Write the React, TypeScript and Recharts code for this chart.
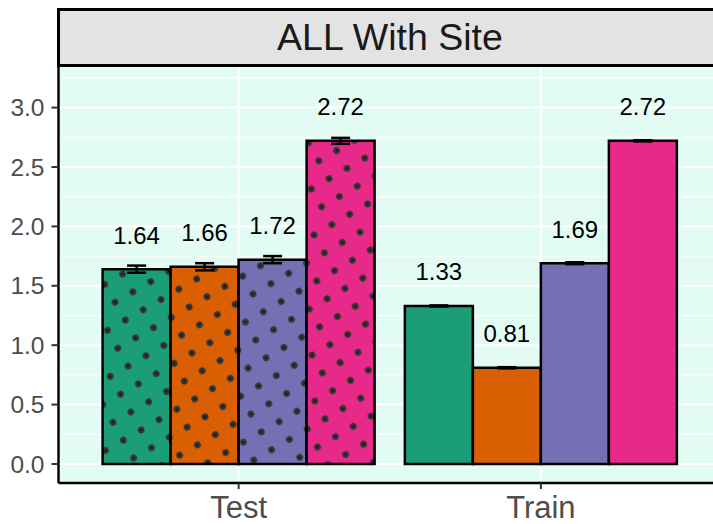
import {Bar, BarChart, CartesianGrid, Cell, ErrorBar, LabelList, XAxis, YAxis} from 'recharts';

// splits on the x axis
const splits = ['Test', 'Train'];
// one bar per model, same order in both splits
const seriesKeys = ['m1', 'm2', 'm3', 'm4'];
const testMeans = [1.64, 1.66, 1.72, 2.72];
const trainMeans = [1.33, 0.81, 1.69, 2.72];
const testErrors = [0.03, 0.03, 0.03, 0.025];
const trainErrors = [0.005, 0.005, 0.008, 0.005];
const yTicks = [0, 0.5, 1, 1.5, 2, 2.5, 3];
const minorTicks = [0.25, 0.75, 1.25, 1.75, 2.25, 2.75, 3.25];

const COLORS = ['#1B9E77', '#D95F02', '#7570B3', '#E7298A'];
const FONT = '"Liberation Sans", Arial, Helvetica, sans-serif';

const rows = splits.map((name, i) => {
  const means = i === 0 ? testMeans : trainMeans;
  const errs = i === 0 ? testErrors : trainErrors;
  const row: Record<string, string | number> = {name};
  seriesKeys.forEach((k, j) => {
    row[k] = means[j];
    row[`${k}Err`] = errs[j];
  });
  return row;
});

const renderValue = (props: any) => {
  const {x, y, width, value} = props;
  return (
    <text x={Number(x) + Number(width) / 2} y={Number(y) - 34} dy="0.35em" textAnchor="middle" fontSize={24} fontFamily={FONT} fill="#000">
      {Number(value).toFixed(2)}
    </text>
  );
};

export default function App() {
  return (
    <div style={{position: 'absolute', left: 0, top: 0, width: 713, height: 524, overflow: 'hidden', background: '#fff', fontFamily: FONT}}>
      <BarChart width={722} height={524} data={rows} margin={{top: 66, right: 0, bottom: 0, left: 0}} barCategoryGap="5%" barGap={0}>
        <defs>
          {COLORS.map((c, j) => (
            <pattern key={c} id={`dots-${j}`} patternUnits="userSpaceOnUse" width={20.6} height={20.6} patternTransform="rotate(-30)">
              <rect width={20.6} height={20.6} fill={c} />
              <circle cx={10.3} cy={10.3} r={3.4} fill="#333" />
              <circle cx={10.3} cy={10.3} r={0.8} fill="#000" />
            </pattern>
          ))}
        </defs>
        <CartesianGrid stroke="#fff" strokeWidth={2} fill="#e2fcf3" />
        <CartesianGrid stroke="#fff" strokeWidth={1} vertical={false} horizontalValues={minorTicks} />
        <XAxis
          dataKey="name"
          height={41}
          padding={{left: 29, right: 30}}
          axisLine={{stroke: '#000', strokeWidth: 2.5}}
          tickLine={{stroke: '#333', strokeWidth: 2}}
          tickSize={6}
          tickMargin={7}
          tick={{fontSize: 31, fill: '#4d4d4d', fontFamily: FONT}}
        />
        <YAxis
          width={58.5}
          type="number"
          domain={[-0.16, 3.35]}
          allowDataOverflow
          ticks={yTicks}
          interval={0}
          tickFormatter={(v: number) => v.toFixed(1)}
          axisLine={{stroke: '#000', strokeWidth: 2.5}}
          tickLine={{stroke: '#333', strokeWidth: 2}}
          tickSize={7}
          tickMargin={7}
          tick={{fontSize: 24.5, fill: '#4d4d4d', fontFamily: FONT}}
        />
        {seriesKeys.map((k, j) => (
          <Bar key={k} dataKey={k} stroke="#000" strokeWidth={2.5} isAnimationActive={false}>
            {rows.map((r, i) => (
              <Cell key={`cell-${i}-${r.name}`} fill={i === 0 ? `url(#dots-${j})` : COLORS[j]} />
            ))}
            <ErrorBar dataKey={`${k}Err`} direction="y" width={9.5} stroke="#000" strokeWidth={2.5} />
            <LabelList dataKey={k} content={renderValue} />
          </Bar>
        ))}
      </BarChart>
      <div
        style={{
          position: 'absolute',
          left: 57,
          top: 8,
          width: 666,
          height: 59,
          boxSizing: 'border-box',
          border: '3px solid #000',
          background: '#e3e3e3',
          display: 'flex',
          alignItems: 'center',
          justifyContent: 'center',
          fontSize: 37.5,
          color: '#1a1a1a',
        }}
      >
        ALL With Site
      </div>
    </div>
  );
}
